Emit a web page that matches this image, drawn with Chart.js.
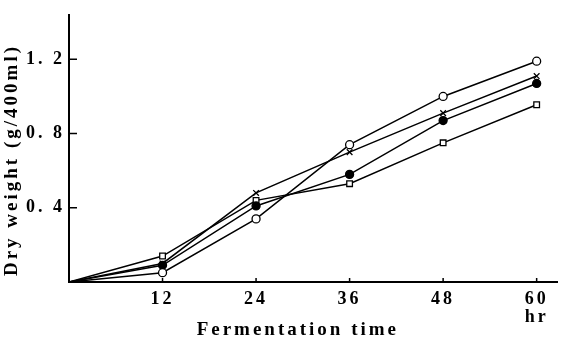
<!DOCTYPE html>
<html>
<head>
<meta charset="utf-8">
<script src="https://cdn.jsdelivr.net/npm/chart.js@4"></script>
<style>
  html, body { margin: 0; padding: 0; background: #fff; }
  #wrap { width: 563px; height: 342px; }
</style>
</head>
<body>
<div id="wrap"><canvas id="chart"></canvas></div>
<script>
// fermentation time (hr)
const hours = [0, 12, 24, 36, 48, 60];
const xTicks = [12, 24, 36, 48, 60];
const yTicks = [0.4, 0.8, 1.2];

// dry weight (g/400ml), one list per marker type
const openCircle = [0, 0.05, 0.34, 0.74, 1.00, 1.19];
const cross = [0, 0.10, 0.48, 0.70, 0.91, 1.11];
const filledCircle = [0, 0.09, 0.41, 0.58, 0.87, 1.07];
const openSquare = [0, 0.14, 0.44, 0.53, 0.75, 0.955];

const FONT = '"Liberation Serif", "DejaVu Serif", serif';

function pts(values) {
    return hours.map((h, i) => ({ x: h, y: values[i] }));
}

function series(values, style, fill, radius) {
    return {
        data: pts(values),
        borderColor: '#000',
        borderWidth: 1.5,
        pointStyle: style,
        pointRadius: hours.map((h) => (h === 0 ? 0 : radius)),
        pointBackgroundColor: fill,
        pointBorderColor: '#000',
        pointBorderWidth: 1.3,
        tension: 0,
    };
}

// little inward tick marks like the original figure
const innerTicks = {
    id: 'innerTicks',
    beforeDraw(chart) {
        chart.ctx.letterSpacing = '3px';
    },
    afterDraw(chart) {
        const ctx = chart.ctx;
        const x = chart.scales.x, y = chart.scales.y;
        ctx.save();
        ctx.strokeStyle = '#000';
        ctx.lineWidth = 1.5;
        ctx.beginPath();
        yTicks.forEach((v) => {
            const py = y.getPixelForValue(v);
            ctx.moveTo(x.left, py);
            ctx.lineTo(x.left + 8, py);
        });
        xTicks.forEach((v) => {
            const px = x.getPixelForValue(v);
            ctx.moveTo(px, y.bottom);
            ctx.lineTo(px, y.bottom - 4);
        });
        ctx.stroke();
        ctx.restore();
    }
};

new Chart(document.getElementById('chart'), {
    type: 'line',
    data: {
        datasets: [
            series(openCircle, 'circle', '#fff', 4),
            series(cross, 'crossRot', '#000', 4),
            series(filledCircle, 'circle', '#000', 4),
            series(openSquare, 'rect', '#fff', 4),
        ],
    },
    options: {
        responsive: true,
        maintainAspectRatio: false,
        animation: false,
        layout: { padding: { top: 12, right: 3, left: 0, bottom: 0 } },
        plugins: { legend: { display: false }, tooltip: { enabled: false } },
        scales: {
            x: {
                type: 'linear',
                min: 0,
                max: 62.7,
                afterBuildTicks: (s) => { s.ticks = xTicks.map((v) => ({ value: v })); },
                afterFit: (s) => { s.height = 60; },
                grid: { drawOnChartArea: false, drawTicks: false },
                border: { display: true, color: '#000', width: 2 },
                ticks: {
                    color: '#000',
                    padding: 8,
                    maxRotation: 0,
                    font: { family: FONT, size: 18, weight: 'bold', lineHeight: 1.0 },
                    callback: (v) => (v === 60 ? ['60', 'hr'] : String(v)),
                },
                title: {
                    display: true,
                    // trailing spaces nudge the centred title left, as in the original
                    text: 'Fermentation time    ',
                    color: '#000',
                    padding: { top: 0, bottom: 1 },
                    font: { family: FONT, size: 19, weight: 'bold' },
                },
            },
            y: {
                min: 0,
                max: 1.44,
                afterBuildTicks: (s) => { s.ticks = yTicks.map((v) => ({ value: v })); },
                afterFit: (s) => { s.width = 69; },
                grid: { drawOnChartArea: false, drawTicks: false },
                border: { display: true, color: '#000', width: 2 },
                ticks: {
                    color: '#000',
                    padding: 4,
                    font: { family: FONT, size: 18, weight: 'bold' },
                    callback: (v) => v.toFixed(1).replace('.', '. '),
                },
                title: {
                    display: true,
                    text: 'Dry weight (g/400ml)   ',
                    color: '#000',
                    padding: { top: 1, bottom: 0 },
                    font: { family: FONT, size: 19, weight: 'bold' },
                },
            },
        },
    },
    plugins: [innerTicks],
});
</script>
</body>
</html>
